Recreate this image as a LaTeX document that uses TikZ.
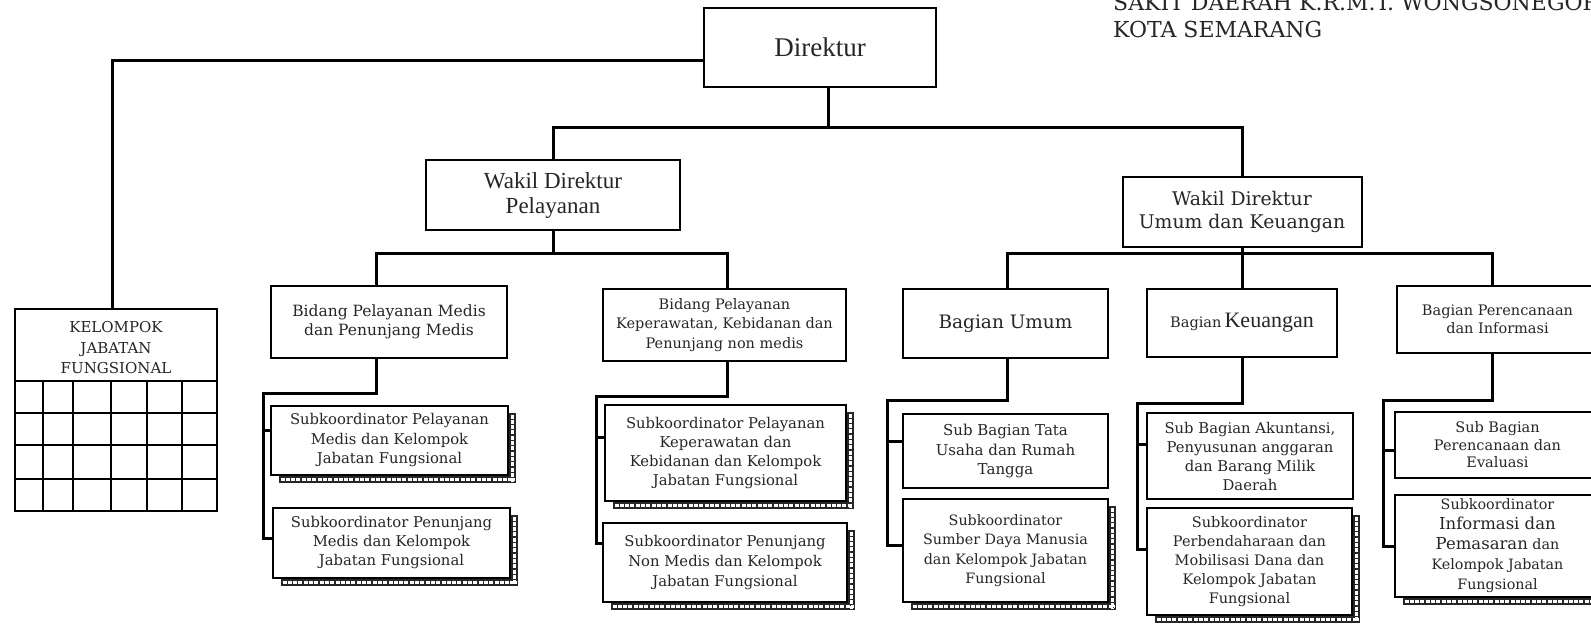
\documentclass[tikz,border=0pt]{standalone}
\usepackage{fontspec}
\setmainfont{DejaVu Serif}
\newfontfamily\tms{Liberation Serif}
\newcommand\fs[2]{\fontsize{#1}{#2}\selectfont}
\tikzset{
  box/.style={draw=black, line width=2pt, inner sep=0pt, align=center, text=black!85, fill=white},
  conn/.style={draw=black, line width=3pt, line join=miter},
  grid/.style={draw=black, line width=2.6pt},
  hatch/.style={white, line width=2.2pt, dash pattern=on 4pt off 1.3pt},
}
\newcommand\shd[1]{%
  \fill[black!85] ([xshift=9pt]#1.south west) rectangle ([xshift=7pt,yshift=-7pt]#1.south east);
  \fill[black!85] ([yshift=-8pt]#1.north east) rectangle ([xshift=7pt,yshift=-7pt]#1.south east);
  \draw[hatch] ([xshift=10.5pt,yshift=-3.5pt]#1.south west) -- ([xshift=5.5pt,yshift=-3.5pt]#1.south east);
  \draw[hatch] ([xshift=3.5pt,yshift=-9.5pt]#1.north east) -- ([xshift=3.5pt,yshift=-5.5pt]#1.south east);
}
\begin{document}
\begin{tikzpicture}[x=1pt,y=-1pt]
\useasboundingbox (0,0) rectangle (1591,625);
\fill[white] (0,0) rectangle (1591,625);
\clip (0,0) rectangle (1591,625);

% title
\node[anchor=north west, inner sep=0pt, align=left, text=black!85, font=\fs{22}{27}] (title) at (1113,-6)
  {SAKIT DAERAH K.R.M.T. WONGSONEGORO\\KOTA SEMARANG};

% top level
\node[box, minimum width=232pt, minimum height=79pt, font=\tms\fs{27}{30}] (dir) at (820,47.5) {Direktur};
\node[box, minimum width=254pt, minimum height=70pt, font=\tms\fs{23}{25}] (wp) at (553,195) {Wakil Direktur\\Pelayanan};
\node[box, minimum width=239pt, minimum height=70pt, font=\fs{18.8}{23}] (wu) at (1242,212) {Wakil Direktur\\Umum dan Keuangan};

% kelompok jabatan fungsional
\node[box, line width=2.4pt, minimum width=202pt, minimum height=202pt] (kjf) at (116,410) {};
\node[inner sep=0pt, align=center, text=black!85, font=\fs{15}{20.5}] (kjft) at (116,348) {KELOMPOK\\JABATAN\\FUNGSIONAL};
\foreach \y in {381,413,445,479} \draw[grid] (kjf.west |- 0,\y) -- (kjf.east |- 0,\y);
\foreach \x in {43,73,111,147,182} \draw[grid] (\x,381) -- (kjf.south -| \x,0);

% bidang / bagian
\node[box, minimum width=236pt, minimum height=72pt, font=\fs{15.5}{18.5}] (bm) at (389,322) {Bidang Pelayanan Medis\\dan Penunjang Medis};
\node[box, minimum width=243pt, minimum height=72pt, font=\fs{14.5}{19.5}] (bk) at (724.5,325) {Bidang Pelayanan\\Keperawatan, Kebidanan dan\\Penunjang non medis};
\node[box, minimum width=205pt, minimum height=69pt, font=\fs{18.5}{22}] (bu) at (1005.5,323.5) {Bagian Umum};
\node[box, minimum width=190pt, minimum height=68pt] (bkeu) at (1242,323) {{\fs{14.5}{18}Bagian} {\tms\fs{22}{24}Keuangan}};
\node[box, minimum width=201pt, minimum height=67pt, font=\fs{14.5}{18}] (bpi) at (1497.5,319.5) {Bagian Perencanaan\\dan Informasi};

% sub units
\node[box, minimum width=237pt, minimum height=69pt, font=\fs{14.8}{19.5}] (s1) at (389.5,440.5) {Subkoordinator Pelayanan\\Medis dan Kelompok\\Jabatan Fungsional};
\node[box, minimum width=237pt, minimum height=70pt, font=\fs{14.8}{19}] (s2) at (391.5,543) {Subkoordinator Penunjang\\Medis dan Kelompok\\Jabatan Fungsional};
\node[box, minimum width=241pt, minimum height=96pt, font=\fs{14.8}{19.3}] (s3) at (725.5,453) {Subkoordinator Pelayanan\\Keperawatan dan\\Kebidanan dan Kelompok\\Jabatan Fungsional};
\node[box, minimum width=244pt, minimum height=79pt, font=\fs{14.8}{20}] (s4) at (725,562.5) {Subkoordinator Penunjang\\Non Medis dan Kelompok\\Jabatan Fungsional};
\node[box, minimum width=205pt, minimum height=74pt, font=\fs{15}{19.5}] (s5) at (1005.5,451) {Sub Bagian Tata\\Usaha dan Rumah\\Tangga};
\node[box, minimum width=205pt, minimum height=103pt, font=\fs{14.3}{19.3}] (s6) at (1005.5,550.5) {Subkoordinator\\Sumber Daya Manusia\\dan Kelompok Jabatan\\Fungsional};
\node[box, minimum width=206pt, minimum height=86pt, font=\fs{14.8}{19}] (s7) at (1250,456) {Sub Bagian Akuntansi,\\Penyusunan anggaran\\dan Barang Milik\\Daerah};
\node[box, minimum width=205pt, minimum height=107pt, font=\fs{14.5}{18.8}] (s8) at (1249.5,561.5) {Subkoordinator\\Perbendaharaan dan\\Mobilisasi Dana dan\\Kelompok Jabatan\\Fungsional};
\node[box, minimum width=205pt, minimum height=66pt, font=\fs{14.5}{17.5}] (s9) at (1497.5,445) {Sub Bagian\\Perencanaan dan\\Evaluasi};
\node[box, minimum width=205pt, minimum height=102pt, font=\fs{14.3}{20}] (s10) at (1497.5,546) {Subkoordinator\\{\fs{16.5}{20}Informasi dan}\\{\fs{16.5}{20}Pemasaran} dan\\Kelompok Jabatan\\Fungsional};

% shadows
\shd{s1}\shd{s2}\shd{s3}\shd{s4}\shd{s6}\shd{s8}\shd{s10}

% connectors
\coordinate (bus0) at (828,127);
\draw[conn] ([xshift=8pt]dir.south) -- (bus0);
\draw[conn] (wp.north) |- (bus0) -| (wu.north);
\draw[conn] (dir.west |- 0,60) -| ([xshift=-4pt]kjf.north);

\coordinate (bus1) at (553,253);
\draw[conn] (wp.south) -- (bus1);
\draw[conn] (bm.north -| 376,0) |- (bus1) -| (bk.north -| 727,0);

\coordinate (v1) at (263,393);
\draw[conn] (bm.south -| 376,0) |- (v1) |- (s2.west |- 0,538);
\draw[conn] (v1 |- 0,430) -- (s1.west |- 0,430);

\coordinate (v2) at (596,396);
\draw[conn] (bk.south -| 727,0) |- (v2) |- (s4.west |- 0,543);
\draw[conn] (v2 |- 0,437) -- (s3.west |- 0,437);

\coordinate (bus2) at (1242,253);
\draw[conn] (wu.south) -- (bus2);
\draw[conn] (bu.north -| 1007,0) |- (bus2) -| (bpi.north -| 1492,0);
\draw[conn] (bus2) -- (bkeu.north);

\coordinate (v3) at (887,400);
\draw[conn] (bu.south -| 1007,0) |- (v3) |- (s6.west |- 0,545);
\draw[conn] (v3 |- 0,441) -- (s5.west |- 0,441);

\coordinate (v4) at (1137,403);
\draw[conn] (bkeu.south) |- (v4) |- (s8.west |- 0,549);
\draw[conn] (v4 |- 0,444) -- (s7.west |- 0,444);

\coordinate (v5) at (1383,400);
\draw[conn] (bpi.south -| 1492,0) |- (v5) |- (s10.west |- 0,546);
\draw[conn] (v5 |- 0,450) -- (s9.west |- 0,450);
\end{tikzpicture}
\end{document}
